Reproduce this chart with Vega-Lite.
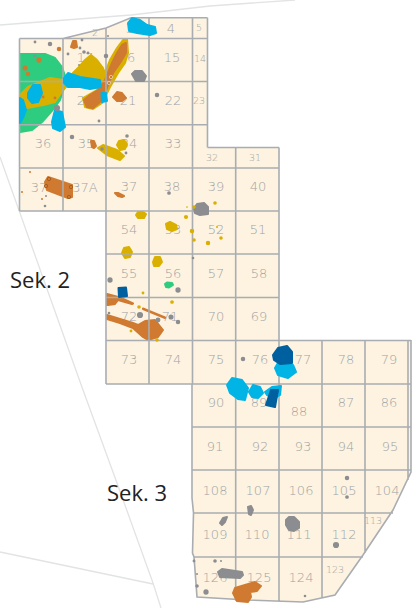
{
"$schema":"https://vega.github.io/schema/vega-lite/v6.json",
"width":414,"height":608,"padding":0,"autosize":"none","background":"white",
"config":{"view":{"stroke":null}},
"projection":{"type":"identity","scale":1,"translate":[0,0]},
"layer":[
{"data":{"values":[{"type":"Feature","properties":{"n":"out"},"geometry":{"type":"MultiLineString","coordinates":[[[0,25],[131,15],[210,6],[295,0]],[[0,157],[83,390],[117,483],[153,583],[161,608]],[[0,552],[153,584]]]}}]},
"mark":{"type":"geoshape","filled":false,"stroke":"#e2e3e4","strokeWidth":1.3},"encoding":{}},
{"data":{"values":[{"type":"Feature","properties":{"n":"land"},"geometry":{"type":"Polygon","coordinates":[[[19.5,38.5],[63,38.5],[106,28],[131,17.7],[207.5,17.7],[207.5,147.5],[279,147.5],[279,340],[411,340],[411,472],[393,510],[363,555],[335,595],[303,602],[247,600],[197,597],[194,557],[192.5,553],[193.5,513],[192,498],[192,384],[106,384],[106,211],[19.5,211],[19.5,38.5]]]}}]},
"mark":{"type":"geoshape","fill":"#fdf3e0","stroke":null},"encoding":{}},
{"data":{"values":[
{"t":"2","x":95,"y":33,"k":"s"},{"t":"3","x":130,"y":29,"k":"m"},{"t":"4","x":171,"y":29,"k":"m"},{"t":"5","x":199,"y":28,"k":"s"},
{"t":"17","x":85,"y":58,"k":"m"},{"t":"16","x":127,"y":58,"k":"m"},{"t":"15","x":172,"y":58,"k":"m"},{"t":"14","x":200,"y":59,"k":"s"},
{"t":"20","x":85,"y":101,"k":"m"},{"t":"21","x":128,"y":101,"k":"m"},{"t":"22","x":173,"y":101,"k":"m"},{"t":"23","x":199,"y":101,"k":"s"},
{"t":"36","x":43,"y":144,"k":"m"},{"t":"35","x":86,"y":144,"k":"m"},{"t":"34","x":129,"y":144,"k":"m"},{"t":"33","x":173,"y":144,"k":"m"},
{"t":"32","x":212,"y":158,"k":"s"},{"t":"31","x":255,"y":158,"k":"s"},
{"t":"37","x":39,"y":188,"k":"m"},{"t":"37A","x":85,"y":188,"k":"m"},{"t":"37","x":129,"y":187,"k":"m"},{"t":"38","x":172,"y":187,"k":"m"},{"t":"39","x":216,"y":187,"k":"m"},{"t":"40","x":258,"y":187,"k":"m"},
{"t":"54","x":129,"y":230,"k":"m"},{"t":"53","x":173,"y":230,"k":"m"},{"t":"52","x":216,"y":230,"k":"m"},{"t":"51","x":258,"y":230,"k":"m"},
{"t":"55","x":129,"y":274,"k":"m"},{"t":"56","x":173,"y":274,"k":"m"},{"t":"57","x":216,"y":274,"k":"m"},{"t":"58","x":259,"y":274,"k":"m"},
{"t":"72","x":129,"y":317,"k":"m"},{"t":"71","x":170,"y":317,"k":"m"},{"t":"70","x":216,"y":317,"k":"m"},{"t":"69","x":259,"y":317,"k":"m"},
{"t":"73","x":129,"y":360,"k":"m"},{"t":"74","x":173,"y":360,"k":"m"},{"t":"75","x":216,"y":360,"k":"m"},{"t":"76","x":260,"y":360,"k":"m"},{"t":"77","x":303,"y":360,"k":"m"},{"t":"78","x":346,"y":360,"k":"m"},{"t":"79","x":389,"y":360,"k":"m"},
{"t":"90","x":216,"y":403,"k":"m"},{"t":"89","x":259,"y":403,"k":"m"},{"t":"88","x":299,"y":412,"k":"m"},{"t":"87","x":346,"y":403,"k":"m"},{"t":"86","x":389,"y":403,"k":"m"},
{"t":"91","x":215,"y":447,"k":"m"},{"t":"92","x":260,"y":447,"k":"m"},{"t":"93","x":303,"y":447,"k":"m"},{"t":"94","x":346,"y":447,"k":"m"},{"t":"95","x":390,"y":447,"k":"m"},
{"t":"108","x":215,"y":491,"k":"m"},{"t":"107","x":258,"y":491,"k":"m"},{"t":"106","x":301,"y":491,"k":"m"},{"t":"105","x":344,"y":491,"k":"m"},{"t":"104","x":387,"y":491,"k":"m"},
{"t":"109","x":215,"y":535,"k":"m"},{"t":"110","x":257,"y":535,"k":"m"},{"t":"111","x":299,"y":535,"k":"m"},{"t":"112","x":344,"y":535,"k":"m"},{"t":"113","x":373,"y":521,"k":"s"},
{"t":"126","x":215,"y":578,"k":"m"},{"t":"125","x":259,"y":578,"k":"m"},{"t":"124","x":301,"y":578,"k":"m"},{"t":"123","x":335,"y":570,"k":"s"}
]},
"mark":{"type":"text","font":"DejaVu Sans","fontWeight":300,"baseline":"middle","align":"center"},
"encoding":{"longitude":{"field":"x","type":"quantitative"},"latitude":{"field":"y","type":"quantitative"},"text":{"field":"t"},"color":{"value":"#a0a3a6"},
"size":{"field":"k","type":"nominal","scale":{"domain":["m","s"],"range":[13,9.5]},"legend":null}}},
{"data":{"values":[
{"type":"Feature","properties":{"kind":"green"},"geometry":{"type":"Polygon","coordinates":[[[20,54],[33,54],[45,54],[55,58],[62,67],[65,76],[65,85],[60,100],[55,107],[50,113],[42,122],[32,130],[20,132],[20,54]]]}},
{"type":"Feature","properties":{"kind":"green"},"geometry":{"type":"Polygon","coordinates":[[[165,284],[167,282.5],[172,283],[173,285],[169,287.5],[166,287],[165,284]]]}},
{"type":"Feature","properties":{"kind":"yellow"},"geometry":{"type":"MultiPolygon","coordinates":[
[[[20,95],[28,87],[50,78],[63,80],[68,85],[63,90],[55,102],[43,105],[27,108],[20,98],[20,95]]],
[[[73,73],[80,66],[85,60],[91,55],[97,60],[103,68],[106,76],[100,82],[75,78],[73,73]]],
[[[127,39],[128,53],[125,63],[118,73],[110,87],[102,103],[93,109],[85,107],[83,98],[90,94],[97,90],[103,78],[110,60],[117,48],[123,40],[127,39]]],
[[[117,145],[119,141],[124,140],[127,144],[125,149],[120,150],[117,145]]],
[[[98,148],[103,145],[117,150],[124,156],[120,160],[107,155],[98,148]]],
[[[136,215],[138,212],[143,212],[146,214],[144,218],[138,218],[136,215]]],
[[[166,224],[170,222],[176,225],[177,229],[172,231],[167,229],[166,224]]],
[[[122,253],[124,248],[129,247],[132,252],[130,257],[125,258],[122,253]]],
[[[153,262],[155,257],[160,257],[162,262],[159,266],[154,266],[153,262]]]
]}},
{"type":"Feature","properties":{"kind":"orange"},"geometry":{"type":"MultiPolygon","coordinates":[
[[[126,43],[126,53],[120,63],[113,73],[107,88],[100,102],[93,108],[87,107],[84,100],[90,95],[98,90],[105,80],[112,63],[117,53],[122,45],[126,43]]],
[[[113,97],[117,92],[122,93],[126,98],[122,101],[117,101],[113,97]]],
[[[71,47],[73,41],[76,41],[77,47],[74,48],[71,47]]],
[[[45,182],[48,177],[72,185],[72,197],[68,198],[47,190],[45,182]]],
[[[91,141],[94,141],[96,146],[94,148],[92,147],[91,141]]],
[[[115,193],[118,193],[124,196],[122,197],[118,196],[115,193]]],
[[[107,294],[120,297.5],[133,303.5],[132,304],[118,300],[115,304],[108,305],[107,305],[107,294]]],
[[[143,308.5],[165,317.5],[165,318],[143,309],[143,308.5]]],
[[[107,315],[133,323],[138,325],[145,321],[155,320],[163,330],[158,337],[148,340],[143,337],[133,328],[120,323],[107,319],[107,315]]]
]}}
]},
"mark":{"type":"geoshape","strokeWidth":2,"strokeJoin":"round"},
"encoding":{"color":{"field":"properties.kind","type":"nominal","legend":null,"scale":{"domain":["green","yellow","orange","cyan","navy","grey","dark","pale"],"range":["#2ecc7f","#d9b000","#cf7a30","#00b4e6","#005f9e","#8c8d90","#a25a1c","#e8c9a0"]}},
"stroke":{"field":"properties.kind","type":"nominal","legend":null,"scale":{"domain":["green","yellow","orange","cyan","navy","grey"],"range":["#2ecc7f","#d9b000","#cf7a30","#00b4e6","#005f9e","#8c8d90"]}}}},
{"data":{"values":[
{"type":"Feature","properties":{"n":"grid"},"geometry":{"type":"MultiLineString","coordinates":[
[[19.5,38.5],[207.5,38.5]],[[19.5,81.5],[207.5,81.5]],[[19.5,124.7],[207.5,124.7]],[[207.5,147.5],[279,147.5]],[[19.5,168],[279,168]],[[19.5,211],[279,211]],[[106,254],[279,254]],[[106,297.5],[279,297.5]],[[106,340.5],[411,340.5]],[[106,384],[411,384]],[[192,427],[411,427]],[[192,470],[411,470]],[[193.5,513],[393,513]],[[194,557],[363,557]],
[[19.5,38.5],[19.5,211]],[[63,38.5],[63,211]],[[106,28],[106,384]],[[149,17.7],[149,384]],[[192.5,17.7],[192.5,384]],[[207.5,17.7],[207.5,147.5]],[[235.7,147.5],[235.7,601]],[[279,147.5],[279,602]],[[322,340.5],[322,598]],[[365,340.5],[365,553]],[[408,340.5],[408,480]],
[[63,38.5],[106,28],[131,17.7],[207.5,17.7]],[[411,340],[411,472],[393,510],[363,555],[335,595],[303,602],[247,600],[197,597],[194,557],[192.5,553],[193.5,513],[192,498],[192,384]]
]}}]},
"mark":{"type":"geoshape","filled":false,"stroke":"#a9adb1","strokeWidth":1.6},"encoding":{}},
{"data":{"values":[
{"type":"Feature","properties":{"kind":"cyan"},"geometry":{"type":"MultiPolygon","coordinates":[
[[[64,78],[68,73],[80,77],[100,80],[101,87],[90,89],[80,87],[68,87],[64,83],[64,78]]],
[[[28,93],[33,85],[40,85],[42,93],[38,102],[32,103],[28,98],[28,93]]],
[[[20,98],[23,100],[26,110],[23,118],[20,123],[20,98]]],
[[[55,110],[62,112],[65,127],[60,131],[53,128],[52,122],[55,110]]],
[[[101.5,93],[106,93],[107,101],[102,102],[101.5,93]]],
[[[128,23],[132,18],[140,20],[147,25],[155,27],[156,33],[150,35],[137,33],[129,31],[128,23]]],
[[[275,368],[278,363],[293,365],[296,372],[288,378],[278,375],[275,368]]],
[[[227,385],[232,378],[242,380],[248,388],[245,400],[238,399],[230,393],[227,385]]],
[[[249,392],[253,385],[260,387],[263,393],[258,398],[252,397],[249,392]]],
[[[265,392],[272,387],[281,386],[280,395],[275,398],[267,395],[265,392]]]
]}},
{"type":"Feature","properties":{"kind":"navy"},"geometry":{"type":"MultiPolygon","coordinates":[
[[[118.5,288],[126,287.5],[127,296],[119,297],[118.5,288]]],
[[[273,355],[278,348],[287,346],[292,352],[292,363],[280,364],[274,360],[273,355]]],
[[[271,390],[278,390],[275,407],[266,405],[271,390]]]
]}},
{"type":"Feature","properties":{"kind":"grey"},"geometry":{"type":"MultiPolygon","coordinates":[
[[[132,74],[135,71],[142,71],[146,76],[144,81],[136,81],[132,74]]],
[[[194,209],[197,204],[204,203],[208,207],[208,214],[200,215],[195,213],[194,209]]],
[[[248,507],[251,506],[253,510],[251,515],[249,514],[248,507]]],
[[[220,523],[223,518],[227,517],[225,522],[222,525],[220,523]]],
[[[286,520],[289,517],[294,517],[299,522],[299,528],[294,531],[289,530],[286,525],[286,520]]],
[[[218,572],[222,569],[242,572],[243,575],[240,578],[220,577],[218,572]]]
]}},
{"type":"Feature","properties":{"kind":"orange"},"geometry":{"type":"Polygon","coordinates":[[[235,588],[255,582],[261,586],[257,591],[250,592],[251,597],[248,602],[237,601],[233,593],[235,588]]]}}
]},
"mark":{"type":"geoshape","strokeWidth":2,"strokeJoin":"round"},
"encoding":{"color":{"field":"properties.kind","type":"nominal","legend":null,"scale":{"domain":["green","yellow","orange","cyan","navy","grey","dark","pale"],"range":["#2ecc7f","#d9b000","#cf7a30","#00b4e6","#005f9e","#8c8d90","#a25a1c","#e8c9a0"]}},
"stroke":{"field":"properties.kind","type":"nominal","legend":null,"scale":{"domain":["green","yellow","orange","cyan","navy","grey"],"range":["#2ecc7f","#d9b000","#cf7a30","#00b4e6","#005f9e","#8c8d90"]}}}},
{"data":{"values":[
{"x":57,"y":108,"a":38,"kind":"grey"},{"x":35,"y":42,"a":8,"kind":"grey"},{"x":50,"y":44,"a":20,"kind":"grey"},{"x":68,"y":54,"a":8,"kind":"grey"},{"x":82,"y":40,"a":8,"kind":"grey"},{"x":80,"y":48,"a":8,"kind":"grey"},{"x":84,"y":52,"a":13,"kind":"grey"},{"x":88,"y":53,"a":8,"kind":"grey"},{"x":106,"y":56,"a":20,"kind":"grey"},{"x":157,"y":95,"a":20,"kind":"grey"},{"x":99,"y":121,"a":8,"kind":"grey"},{"x":72,"y":137,"a":20,"kind":"grey"},{"x":127,"y":136,"a":13,"kind":"grey"},{"x":126,"y":153,"a":8,"kind":"grey"},{"x":102,"y":149,"a":13,"kind":"grey"},{"x":46,"y":196,"a":4,"kind":"grey"},{"x":45,"y":206,"a":7,"kind":"grey"},{"x":169,"y":193,"a":14,"kind":"grey"},{"x":108,"y":36,"a":4,"kind":"grey"},{"x":35,"y":56,"a":7,"kind":"grey"},{"x":79,"y":65,"a":4,"kind":"grey"},
{"x":193,"y":258,"a":7,"kind":"grey"},{"x":110,"y":280,"a":28,"kind":"grey"},{"x":178,"y":290,"a":28,"kind":"grey"},{"x":140,"y":315,"a":38,"kind":"grey"},{"x":109,"y":313,"a":7,"kind":"grey"},{"x":158,"y":320,"a":24,"kind":"grey"},{"x":171,"y":317,"a":26,"kind":"grey"},{"x":178,"y":322,"a":20,"kind":"grey"},{"x":243,"y":359,"a":20,"kind":"grey"},
{"x":347,"y":478,"a":20,"kind":"grey"},{"x":347,"y":497,"a":14,"kind":"grey"},{"x":336,"y":545,"a":38,"kind":"grey"},{"x":194,"y":561,"a":8,"kind":"grey"},{"x":215,"y":561,"a":13,"kind":"grey"},{"x":221,"y":561,"a":4,"kind":"grey"},{"x":197,"y":574,"a":4,"kind":"grey"},{"x":197,"y":586,"a":13,"kind":"grey"},{"x":206,"y":592,"a":28,"kind":"grey"},{"x":305,"y":596,"a":7,"kind":"grey"},
{"x":59,"y":49,"a":20,"kind":"orange"},{"x":39,"y":60,"a":28,"kind":"orange"},{"x":25,"y":68,"a":26,"kind":"orange"},{"x":28,"y":74,"a":20,"kind":"orange"},{"x":43,"y":97,"a":8,"kind":"orange"},{"x":55,"y":98,"a":8,"kind":"orange"},{"x":30,"y":172,"a":4,"kind":"orange"},{"x":22,"y":192,"a":4,"kind":"orange"},{"x":42,"y":199,"a":4,"kind":"orange"},
{"x":215,"y":203,"a":13,"kind":"yellow"},{"x":187,"y":207,"a":3,"kind":"yellow"},{"x":194,"y":207,"a":12,"kind":"yellow"},{"x":186,"y":217,"a":18,"kind":"yellow"},{"x":192,"y":231,"a":20,"kind":"yellow"},{"x":194,"y":240,"a":13,"kind":"yellow"},{"x":208,"y":243,"a":20,"kind":"yellow"},{"x":221,"y":238,"a":13,"kind":"yellow"},{"x":217,"y":227,"a":4,"kind":"yellow"},{"x":143,"y":293,"a":8,"kind":"yellow"},{"x":139,"y":307,"a":13,"kind":"yellow"},{"x":172,"y":302,"a":14,"kind":"yellow"},{"x":131,"y":331,"a":8,"kind":"yellow"},{"x":157,"y":340,"a":13,"kind":"yellow"}
]},
"mark":{"type":"circle","opacity":1},
"encoding":{"longitude":{"field":"x","type":"quantitative"},"latitude":{"field":"y","type":"quantitative"},"size":{"field":"a","type":"quantitative","scale":null,"legend":null},
"color":{"field":"kind","type":"nominal","legend":null,"scale":{"domain":["green","yellow","orange","cyan","navy","grey","dark","pale"],"range":["#2ecc7f","#d9b000","#cf7a30","#00b4e6","#005f9e","#8c8d90","#a25a1c","#e8c9a0"]}}}},
{"data":{"values":[{"x":49,"y":179,"c":"dark"},{"x":46,"y":186,"c":"dark"},{"x":71,"y":187,"c":"dark"},{"x":69,"y":197,"c":"dark"},{"x":111,"y":77,"c":"pale"},{"x":109,"y":83,"c":"pale"}]},
"mark":{"type":"point","filled":false,"size":11,"strokeWidth":1,"opacity":0.9},
"encoding":{"longitude":{"field":"x","type":"quantitative"},"latitude":{"field":"y","type":"quantitative"},
"color":{"field":"c","type":"nominal","legend":null,"scale":{"domain":["green","yellow","orange","cyan","navy","grey","dark","pale"],"range":["#2ecc7f","#d9b000","#cf7a30","#00b4e6","#005f9e","#8c8d90","#a25a1c","#e8c9a0"]}}}},
{"data":{"values":[{"t":"Sek. 2","x":10,"y":281},{"t":"Sek. 3","x":107,"y":494}]},
"mark":{"type":"text","font":"Open Sans","fontSize":22,"align":"left","baseline":"middle","color":"#222222"},
"encoding":{"longitude":{"field":"x","type":"quantitative"},"latitude":{"field":"y","type":"quantitative"},"text":{"field":"t"}}}
]}
